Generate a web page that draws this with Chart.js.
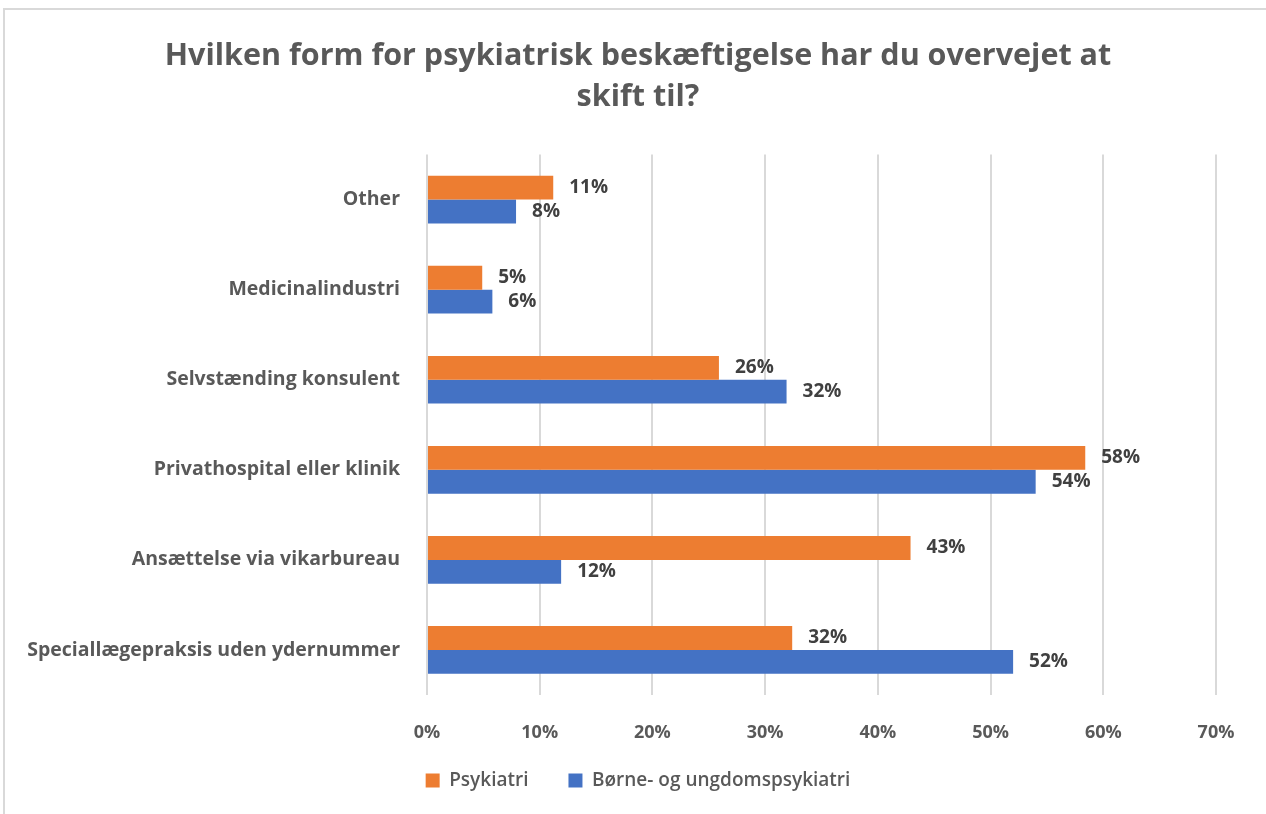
<!DOCTYPE html>
<html>
<head>
<meta charset="utf-8">
<script src="https://cdn.jsdelivr.net/npm/chart.js@4"></script>
<style>
  html, body { margin: 0; padding: 0; background: #fff; overflow: hidden; }
  .frame { position: absolute; left: 3px; top: 8px; width: 1400px; height: 900px;
           border-top: 2px solid #d9d9d9; border-left: 2px solid #d9d9d9; }
  .wrap { position: absolute; left: 0; top: 0; width: 1266px; height: 814px; }
</style>
</head>
<body>
<div class="frame"></div>
<div class="wrap"><canvas id="chart"></canvas></div>
<script>
// categories, top to bottom
const categories = [
  'Other',
  'Medicinalindustri',
  'Selvstænding konsulent',
  'Privathospital eller klinik',
  'Ansættelse via vikarbureau',
  'Speciallægepraksis uden ydernummer'
];
const psykiatri = [11.2, 4.9, 25.9, 58.4, 42.9, 32.4];
const boerneUngdom = [7.9, 5.8, 31.9, 54.0, 11.9, 52.0];
const xTicks = [0, 10, 20, 30, 40, 50, 60, 70];

const textColor = '#595959';
const fontFamily = "'Open Sans', Lato, sans-serif";

// value labels to the right of each bar
const barLabels = {
  id: 'barLabels',
  afterDatasetsDraw(chart) {
    const ctx = chart.ctx;
    ctx.save();
    ctx.font = "bold 19px " + fontFamily;
    ctx.fillStyle = '#404040';
    ctx.textAlign = 'left';
    ctx.textBaseline = 'middle';
    chart.data.datasets.forEach((ds, i) => {
      const meta = chart.getDatasetMeta(i);
      meta.data.forEach((bar, j) => {
        ctx.fillText(Math.round(ds.data[j]) + '%', bar.x + 16, bar.y);
      });
    });
    ctx.restore();
  }
};

// pull the legend up closer to the axis labels
const legendNudge = {
  id: 'legendNudge',
  afterLayout(chart) {
    if (chart.legend) {
      chart.legend.top -= 18;
      chart.legend.bottom -= 18;
    }
  }
};

new Chart(document.getElementById('chart'), {
  type: 'bar',
  data: {
    labels: categories,
    datasets: [
      { label: 'Psykiatri', data: psykiatri, backgroundColor: '#ED7D31' },
      { label: 'Børne- og ungdomspsykiatri', data: boerneUngdom, backgroundColor: '#4472C4' }
    ]
  },
  options: {
    indexAxis: 'y',
    responsive: true,
    maintainAspectRatio: false,
    animation: false,
    categoryPercentage: 0.53,
    barPercentage: 1,
    layout: { padding: { left: 10, right: 0, top: 35, bottom: 0 } },
    scales: {
      x: {
        min: 0,
        max: 70,
        afterBuildTicks: scale => { scale.ticks = xTicks.map(v => ({ value: v })); },
        afterFit: scale => { scale.paddingRight = 50; scale.height = 54; },
        ticks: {
          callback: v => v + '%',
          color: textColor,
          font: { family: fontFamily, size: 18, weight: 'bold' },
          padding: 27
        },
        grid: { color: '#d9d9d9', lineWidth: 2, drawTicks: false },
        border: { display: false }
      },
      y: {
        afterFit: scale => { scale.width = 417; },
        ticks: {
          color: textColor,
          font: { family: fontFamily, size: 19.5, weight: 'bold' },
          padding: 27
        },
        grid: { display: false, drawTicks: false },
        border: { display: false }
      }
    },
    plugins: {
      title: {
        display: true,
        text: ['Hvilken form for psykiatrisk beskæftigelse har du overvejet at', 'skift til?'],
        color: textColor,
        font: { family: fontFamily, size: 30.5, weight: 'bold', lineHeight: 1.37 },
        padding: { top: 0, bottom: 36 }
      },
      legend: {
        position: 'bottom',
        maxHeight: 65,
        labels: {
          color: textColor,
          font: { family: fontFamily, size: 19, weight: '600' },
          boxWidth: 14,
          boxHeight: 14,
          padding: 40
        }
      },
      tooltip: { enabled: false }
    }
  },
  plugins: [barLabels, legendNudge]
});
</script>
</body>
</html>
